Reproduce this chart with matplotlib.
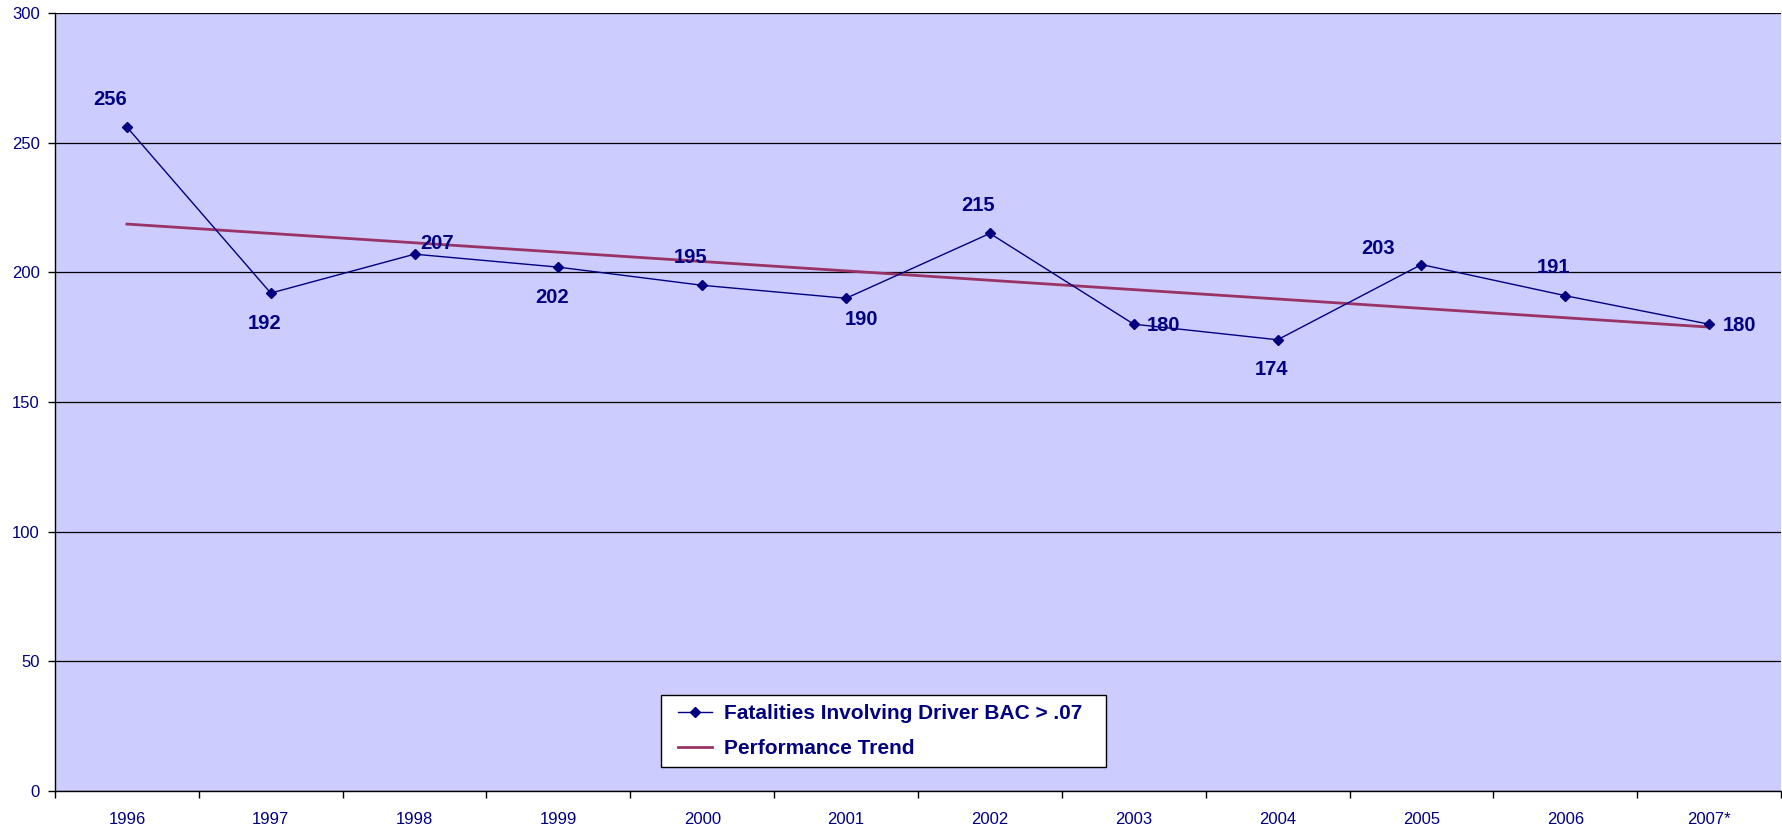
"""Fatalities involving driver BAC > .07, 1996-2007, with linear performance trend."""

import numpy as np
import matplotlib
matplotlib.use("Agg")
import matplotlib.pyplot as plt
from matplotlib.patches import Rectangle

years = ["1996", "1997", "1998", "1999", "2000", "2001",
         "2002", "2003", "2004", "2005", "2006", "2007*"]
fatalities = [256, 192, 207, 202, 195, 190, 215, 180, 174, 203, 191, 180]

# where Excel put each data label, relative to the point
label_place = ["above_left", "below", "right_up", "below", "above", "below_right",
               "above", "right", "below", "above_far_left", "above", "right"]

NAVY = "#000080"
TREND = "#993366"
PLOT_BG = "#CCCCFF"

# offsets in pixels (x, y-up)
OFFSETS = {
    "above": (-12, 28),
    "above_left": (-17, 28),
    "above_far_left": (-43, 16),
    "below": (-6, -30),
    "below_right": (15, -21),
    "right": (30, -1),
    "right_up": (22, 11),
}


def main():
    plt.rcParams["font.family"] = ["Liberation Sans", "DejaVu Sans"]

    fig = plt.figure(figsize=(17.83, 8.31), dpi=100)
    ax = fig.add_axes([55 / 1783, 1 - 791 / 831, 1726 / 1783, 778 / 831])
    ax.set_facecolor(PLOT_BG)

    x = np.arange(len(years))
    y = np.array(fatalities, dtype=float)

    # linear trend, as Excel's trendline
    slope, intercept = np.polyfit(x, y, 1)
    trend = slope * x + intercept

    ax.plot(x, y, color=NAVY, linewidth=1.0, marker="D", markersize=5.3,
            markerfacecolor=NAVY, markeredgecolor=NAVY, zorder=4,
            label="Fatalities Involving Driver BAC > .07")
    ax.plot([x[0], x[-1]], [trend[0], trend[-1]], color=TREND, linewidth=2.0,
            zorder=3, label="Performance Trend")

    for xi, yi, place in zip(x, fatalities, label_place):
        dx, dy = OFFSETS[place]
        ax.annotate(str(yi), (xi, yi), xytext=(dx * 0.72, dy * 0.72),
                    textcoords="offset points", ha="center", va="center",
                    fontsize=14.5, fontweight="bold", color=NAVY, zorder=5)

    ax.set_xlim(-0.5, len(years) - 0.5)
    ax.set_ylim(0, 300)
    ax.set_yticks(range(0, 301, 50))
    ax.yaxis.grid(True, color="black", linewidth=0.9)
    ax.set_axisbelow(True)

    # category boundaries as major ticks, labels centred
    ax.set_xticks(np.arange(-0.5, len(years), 1.0))
    ax.set_xticklabels([])
    ax.set_xticks(x, minor=True)
    ax.set_xticklabels(years, minor=True)
    ax.tick_params(axis="x", which="major", length=5, width=1, color="black",
                   direction="out")
    ax.tick_params(axis="x", which="minor", length=0, pad=15,
                   labelsize=12, labelcolor=NAVY)
    ax.tick_params(axis="y", length=5, width=1, color="black", direction="out",
                   labelsize=12, labelcolor=NAVY, pad=6)

    for side in ("top", "right"):
        ax.spines[side].set_visible(False)
    for side in ("left", "bottom"):
        ax.spines[side].set_color("black")
        ax.spines[side].set_linewidth(1.0)

    # Excel-style legend box (wider than its entries)
    ax.add_patch(Rectangle((0.351, 0.0305), 0.258, 0.0935, transform=ax.transAxes,
                           facecolor="white", edgecolor="black", linewidth=1.0,
                           zorder=6))
    leg = ax.legend(loc="center left", bbox_to_anchor=(0.361, 0.077),
                    prop={"size": 15, "weight": "bold"}, frameon=False,
                    handlelength=1.63, handletextpad=0.58,
                    borderpad=0.0, borderaxespad=0.0, labelspacing=0.76)
    leg.set_zorder(7)
    for text in leg.get_texts():
        text.set_color(NAVY)

    fig.savefig("out.png", dpi=100, facecolor="white")


if __name__ == "__main__":
    main()
